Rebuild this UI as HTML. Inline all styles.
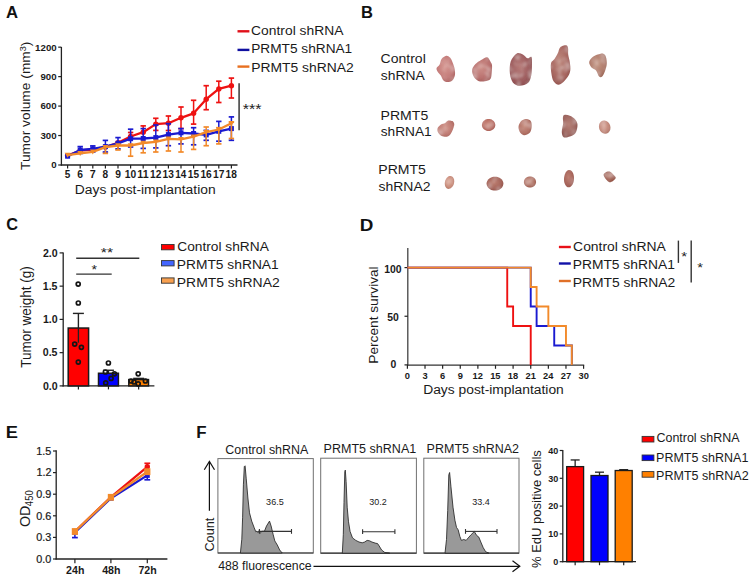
<!DOCTYPE html>
<html><head><meta charset="utf-8"><style>
html,body{margin:0;padding:0;background:#fff;width:754px;height:582px;overflow:hidden}
svg{display:block;font-family:"Liberation Sans", sans-serif}
</style></head><body>
<svg width="754" height="582" viewBox="0 0 754 582">
<defs><filter id="bl" x="-30%" y="-30%" width="160%" height="160%"><feGaussianBlur in="SourceGraphic" stdDeviation="0.6" result="b"/><feTurbulence type="fractalNoise" baseFrequency="0.14" numOctaves="2" seed="5" result="n"/><feColorMatrix in="n" type="matrix" values="0 0 0 0 0.95  0 0 0 0 0.82  0 0 0 0 0.80  0.9 0 0 0 -0.42" result="sp0"/><feGaussianBlur in="sp0" stdDeviation="0.8" result="sp"/><feComposite in="sp" in2="b" operator="in" result="sp2"/><feMerge><feMergeNode in="b"/><feMergeNode in="sp2"/></feMerge></filter><radialGradient id="tg0" cx="0.45" cy="0.42" r="0.6"><stop offset="0" stop-color="rgb(214, 152, 146)"/><stop offset="0.7" stop-color="rgb(196, 124, 122)"/><stop offset="1" stop-color="rgb(178, 106, 104)"/></radialGradient><radialGradient id="tg1" cx="0.45" cy="0.42" r="0.6"><stop offset="0" stop-color="rgb(206, 144, 138)"/><stop offset="0.7" stop-color="rgb(186, 114, 112)"/><stop offset="1" stop-color="rgb(168, 96, 94)"/></radialGradient><radialGradient id="tg2" cx="0.45" cy="0.42" r="0.6"><stop offset="0" stop-color="rgb(182, 122, 120)"/><stop offset="0.7" stop-color="rgb(158, 94, 96)"/><stop offset="1" stop-color="rgb(140, 76, 78)"/></radialGradient><radialGradient id="tg3" cx="0.45" cy="0.42" r="0.6"><stop offset="0" stop-color="rgb(190, 138, 126)"/><stop offset="0.7" stop-color="rgb(168, 104, 98)"/><stop offset="1" stop-color="rgb(150, 86, 80)"/></radialGradient><radialGradient id="tg4" cx="0.45" cy="0.42" r="0.6"><stop offset="0" stop-color="rgb(196, 152, 132)"/><stop offset="0.7" stop-color="rgb(176, 124, 108)"/><stop offset="1" stop-color="rgb(158, 106, 90)"/></radialGradient><radialGradient id="tg5" cx="0.45" cy="0.42" r="0.6"><stop offset="0" stop-color="rgb(210, 150, 140)"/><stop offset="0.7" stop-color="rgb(192, 124, 116)"/><stop offset="1" stop-color="rgb(174, 106, 98)"/></radialGradient><radialGradient id="tg6" cx="0.45" cy="0.42" r="0.6"><stop offset="0" stop-color="rgb(202, 136, 122)"/><stop offset="0.7" stop-color="rgb(184, 108, 98)"/><stop offset="1" stop-color="rgb(166, 90, 80)"/></radialGradient><radialGradient id="tg7" cx="0.45" cy="0.42" r="0.6"><stop offset="0" stop-color="rgb(200, 144, 130)"/><stop offset="0.7" stop-color="rgb(180, 116, 104)"/><stop offset="1" stop-color="rgb(162, 98, 86)"/></radialGradient><radialGradient id="tg8" cx="0.45" cy="0.42" r="0.6"><stop offset="0" stop-color="rgb(182, 130, 120)"/><stop offset="0.7" stop-color="rgb(158, 102, 96)"/><stop offset="1" stop-color="rgb(140, 84, 78)"/></radialGradient><radialGradient id="tg9" cx="0.45" cy="0.42" r="0.6"><stop offset="0" stop-color="rgb(212, 160, 145)"/><stop offset="0.7" stop-color="rgb(194, 136, 122)"/><stop offset="1" stop-color="rgb(176, 118, 104)"/></radialGradient><radialGradient id="tg10" cx="0.45" cy="0.42" r="0.6"><stop offset="0" stop-color="rgb(218, 165, 145)"/><stop offset="0.7" stop-color="rgb(200, 138, 120)"/><stop offset="1" stop-color="rgb(182, 120, 102)"/></radialGradient><radialGradient id="tg11" cx="0.45" cy="0.42" r="0.6"><stop offset="0" stop-color="rgb(188, 126, 112)"/><stop offset="0.7" stop-color="rgb(166, 102, 92)"/><stop offset="1" stop-color="rgb(148, 84, 74)"/></radialGradient><radialGradient id="tg12" cx="0.45" cy="0.42" r="0.6"><stop offset="0" stop-color="rgb(196, 138, 122)"/><stop offset="0.7" stop-color="rgb(174, 112, 98)"/><stop offset="1" stop-color="rgb(156, 94, 80)"/></radialGradient><radialGradient id="tg13" cx="0.45" cy="0.42" r="0.6"><stop offset="0" stop-color="rgb(190, 128, 115)"/><stop offset="0.7" stop-color="rgb(168, 102, 92)"/><stop offset="1" stop-color="rgb(150, 84, 74)"/></radialGradient><radialGradient id="tg14" cx="0.45" cy="0.42" r="0.6"><stop offset="0" stop-color="rgb(180, 118, 100)"/><stop offset="0.7" stop-color="rgb(158, 94, 80)"/><stop offset="1" stop-color="rgb(140, 76, 62)"/></radialGradient></defs>
<rect width="754" height="582" fill="#fff"/>
<line x1="61.40" y1="47.00" x2="61.40" y2="165.60" stroke="#222" stroke-width="1.3" />
<line x1="60.80" y1="165.00" x2="237.50" y2="165.00" stroke="#222" stroke-width="1.3" />
<line x1="58.20" y1="165.00" x2="61.40" y2="165.00" stroke="#222" stroke-width="1.2" />
<text x="56.70" y="168.40" font-size="9.7" font-weight="700" fill="#1a1a1a" text-anchor="end" >0</text>
<line x1="58.20" y1="135.54" x2="61.40" y2="135.54" stroke="#222" stroke-width="1.2" />
<text x="56.67" y="138.94" font-size="9.7" font-weight="700" fill="#1a1a1a" text-anchor="end" >300</text>
<line x1="58.20" y1="106.08" x2="61.40" y2="106.08" stroke="#222" stroke-width="1.2" />
<text x="56.67" y="109.48" font-size="9.7" font-weight="700" fill="#1a1a1a" text-anchor="end" >600</text>
<line x1="58.20" y1="76.62" x2="61.40" y2="76.62" stroke="#222" stroke-width="1.2" />
<text x="56.67" y="80.02" font-size="9.7" font-weight="700" fill="#1a1a1a" text-anchor="end" >900</text>
<line x1="58.20" y1="47.16" x2="61.40" y2="47.16" stroke="#222" stroke-width="1.2" />
<text x="56.68" y="50.56" font-size="9.7" font-weight="700" fill="#1a1a1a" text-anchor="end" >1200</text>
<line x1="67.60" y1="165.00" x2="67.60" y2="168.50" stroke="#222" stroke-width="1.2" />
<line x1="80.20" y1="165.00" x2="80.20" y2="168.50" stroke="#222" stroke-width="1.2" />
<line x1="92.80" y1="165.00" x2="92.80" y2="168.50" stroke="#222" stroke-width="1.2" />
<line x1="105.40" y1="165.00" x2="105.40" y2="168.50" stroke="#222" stroke-width="1.2" />
<line x1="118.00" y1="165.00" x2="118.00" y2="168.50" stroke="#222" stroke-width="1.2" />
<line x1="130.60" y1="165.00" x2="130.60" y2="168.50" stroke="#222" stroke-width="1.2" />
<line x1="143.20" y1="165.00" x2="143.20" y2="168.50" stroke="#222" stroke-width="1.2" />
<line x1="155.80" y1="165.00" x2="155.80" y2="168.50" stroke="#222" stroke-width="1.2" />
<line x1="168.40" y1="165.00" x2="168.40" y2="168.50" stroke="#222" stroke-width="1.2" />
<line x1="181.00" y1="165.00" x2="181.00" y2="168.50" stroke="#222" stroke-width="1.2" />
<line x1="193.60" y1="165.00" x2="193.60" y2="168.50" stroke="#222" stroke-width="1.2" />
<line x1="206.20" y1="165.00" x2="206.20" y2="168.50" stroke="#222" stroke-width="1.2" />
<line x1="218.80" y1="165.00" x2="218.80" y2="168.50" stroke="#222" stroke-width="1.2" />
<line x1="231.40" y1="165.00" x2="231.40" y2="168.50" stroke="#222" stroke-width="1.2" />
<text transform="translate(29.80,169.70) rotate(-90)" x="-0.27" y="0" font-size="13.4" font-weight="400" fill="#1a1a1a" textLength="128.44" lengthAdjust="spacingAndGlyphs">Tumor volume (mm<tspan font-size="8.8" dy="-4">3</tspan><tspan dy="4">)</tspan></text>
<line x1="130.60" y1="132.50" x2="130.60" y2="136.50" stroke="#ee1111" stroke-width="1.5" />
<line x1="127.90" y1="132.50" x2="133.30" y2="132.50" stroke="#ee1111" stroke-width="1.7" />
<line x1="143.20" y1="125.90" x2="143.20" y2="132.20" stroke="#ee1111" stroke-width="1.5" />
<line x1="140.50" y1="125.90" x2="145.90" y2="125.90" stroke="#ee1111" stroke-width="1.7" />
<line x1="155.80" y1="118.30" x2="155.80" y2="124.10" stroke="#ee1111" stroke-width="1.5" />
<line x1="153.10" y1="118.30" x2="158.50" y2="118.30" stroke="#ee1111" stroke-width="1.7" />
<line x1="155.80" y1="124.10" x2="155.80" y2="130.40" stroke="#ee1111" stroke-width="1.5" />
<line x1="153.10" y1="130.40" x2="158.50" y2="130.40" stroke="#ee1111" stroke-width="1.7" />
<line x1="168.40" y1="116.00" x2="168.40" y2="123.20" stroke="#ee1111" stroke-width="1.5" />
<line x1="165.70" y1="116.00" x2="171.10" y2="116.00" stroke="#ee1111" stroke-width="1.7" />
<line x1="168.40" y1="123.20" x2="168.40" y2="130.50" stroke="#ee1111" stroke-width="1.5" />
<line x1="165.70" y1="130.50" x2="171.10" y2="130.50" stroke="#ee1111" stroke-width="1.7" />
<line x1="181.00" y1="107.00" x2="181.00" y2="117.80" stroke="#ee1111" stroke-width="1.5" />
<line x1="178.30" y1="107.00" x2="183.70" y2="107.00" stroke="#ee1111" stroke-width="1.7" />
<line x1="181.00" y1="117.80" x2="181.00" y2="128.60" stroke="#ee1111" stroke-width="1.5" />
<line x1="178.30" y1="128.60" x2="183.70" y2="128.60" stroke="#ee1111" stroke-width="1.7" />
<line x1="193.60" y1="100.30" x2="193.60" y2="113.30" stroke="#ee1111" stroke-width="1.5" />
<line x1="190.90" y1="100.30" x2="196.30" y2="100.30" stroke="#ee1111" stroke-width="1.7" />
<line x1="193.60" y1="113.30" x2="193.60" y2="124.10" stroke="#ee1111" stroke-width="1.5" />
<line x1="190.90" y1="124.10" x2="196.30" y2="124.10" stroke="#ee1111" stroke-width="1.7" />
<line x1="206.20" y1="85.70" x2="206.20" y2="99.20" stroke="#ee1111" stroke-width="1.5" />
<line x1="203.50" y1="85.70" x2="208.90" y2="85.70" stroke="#ee1111" stroke-width="1.7" />
<line x1="206.20" y1="99.20" x2="206.20" y2="109.70" stroke="#ee1111" stroke-width="1.5" />
<line x1="203.50" y1="109.70" x2="208.90" y2="109.70" stroke="#ee1111" stroke-width="1.7" />
<line x1="218.80" y1="81.20" x2="218.80" y2="88.90" stroke="#ee1111" stroke-width="1.5" />
<line x1="216.10" y1="81.20" x2="221.50" y2="81.20" stroke="#ee1111" stroke-width="1.7" />
<line x1="218.80" y1="88.90" x2="218.80" y2="102.50" stroke="#ee1111" stroke-width="1.5" />
<line x1="216.10" y1="102.50" x2="221.50" y2="102.50" stroke="#ee1111" stroke-width="1.7" />
<line x1="231.40" y1="78.10" x2="231.40" y2="85.70" stroke="#ee1111" stroke-width="1.5" />
<line x1="228.70" y1="78.10" x2="234.10" y2="78.10" stroke="#ee1111" stroke-width="1.7" />
<line x1="231.40" y1="85.70" x2="231.40" y2="98.00" stroke="#ee1111" stroke-width="1.5" />
<line x1="228.70" y1="98.00" x2="234.10" y2="98.00" stroke="#ee1111" stroke-width="1.7" />
<polyline points="67.60,155.60 80.20,150.50 92.80,149.50 105.40,147.00 118.00,142.80 130.60,136.50 143.20,132.20 155.80,124.10 168.40,123.20 181.00,117.80 193.60,113.30 206.20,99.20 218.80,88.90 231.40,85.70" fill="none" stroke="#ee1111" stroke-width="2.3" stroke-linejoin="round"/>
<circle cx="67.60" cy="155.60" r="2.7" fill="#ee1111"/>
<circle cx="80.20" cy="150.50" r="2.7" fill="#ee1111"/>
<circle cx="92.80" cy="149.50" r="2.7" fill="#ee1111"/>
<circle cx="105.40" cy="147.00" r="2.7" fill="#ee1111"/>
<circle cx="118.00" cy="142.80" r="2.7" fill="#ee1111"/>
<circle cx="130.60" cy="136.50" r="2.7" fill="#ee1111"/>
<circle cx="143.20" cy="132.20" r="2.7" fill="#ee1111"/>
<circle cx="155.80" cy="124.10" r="2.7" fill="#ee1111"/>
<circle cx="168.40" cy="123.20" r="2.7" fill="#ee1111"/>
<circle cx="181.00" cy="117.80" r="2.7" fill="#ee1111"/>
<circle cx="193.60" cy="113.30" r="2.7" fill="#ee1111"/>
<circle cx="206.20" cy="99.20" r="2.7" fill="#ee1111"/>
<circle cx="218.80" cy="88.90" r="2.7" fill="#ee1111"/>
<circle cx="231.40" cy="85.70" r="2.7" fill="#ee1111"/>
<line x1="80.20" y1="146.60" x2="80.20" y2="150.00" stroke="#1a1ad0" stroke-width="1.5" />
<line x1="77.50" y1="146.60" x2="82.90" y2="146.60" stroke="#1a1ad0" stroke-width="1.7" />
<line x1="80.20" y1="150.00" x2="80.20" y2="153.40" stroke="#1a1ad0" stroke-width="1.5" />
<line x1="77.50" y1="153.40" x2="82.90" y2="153.40" stroke="#1a1ad0" stroke-width="1.7" />
<line x1="92.80" y1="145.90" x2="92.80" y2="148.90" stroke="#1a1ad0" stroke-width="1.5" />
<line x1="90.10" y1="145.90" x2="95.50" y2="145.90" stroke="#1a1ad0" stroke-width="1.7" />
<line x1="92.80" y1="148.90" x2="92.80" y2="152.00" stroke="#1a1ad0" stroke-width="1.5" />
<line x1="90.10" y1="152.00" x2="95.50" y2="152.00" stroke="#1a1ad0" stroke-width="1.7" />
<line x1="105.40" y1="140.40" x2="105.40" y2="146.60" stroke="#1a1ad0" stroke-width="1.5" />
<line x1="102.70" y1="140.40" x2="108.10" y2="140.40" stroke="#1a1ad0" stroke-width="1.7" />
<line x1="105.40" y1="146.60" x2="105.40" y2="152.00" stroke="#1a1ad0" stroke-width="1.5" />
<line x1="102.70" y1="152.00" x2="108.10" y2="152.00" stroke="#1a1ad0" stroke-width="1.7" />
<line x1="118.00" y1="137.60" x2="118.00" y2="143.30" stroke="#1a1ad0" stroke-width="1.5" />
<line x1="115.30" y1="137.60" x2="120.70" y2="137.60" stroke="#1a1ad0" stroke-width="1.7" />
<line x1="118.00" y1="143.30" x2="118.00" y2="148.90" stroke="#1a1ad0" stroke-width="1.5" />
<line x1="115.30" y1="148.90" x2="120.70" y2="148.90" stroke="#1a1ad0" stroke-width="1.7" />
<line x1="130.60" y1="129.20" x2="130.60" y2="138.70" stroke="#1a1ad0" stroke-width="1.5" />
<line x1="127.90" y1="129.20" x2="133.30" y2="129.20" stroke="#1a1ad0" stroke-width="1.7" />
<line x1="130.60" y1="138.70" x2="130.60" y2="147.00" stroke="#1a1ad0" stroke-width="1.5" />
<line x1="127.90" y1="147.00" x2="133.30" y2="147.00" stroke="#1a1ad0" stroke-width="1.7" />
<line x1="143.20" y1="128.60" x2="143.20" y2="138.50" stroke="#1a1ad0" stroke-width="1.5" />
<line x1="140.50" y1="128.60" x2="145.90" y2="128.60" stroke="#1a1ad0" stroke-width="1.7" />
<line x1="143.20" y1="138.50" x2="143.20" y2="148.40" stroke="#1a1ad0" stroke-width="1.5" />
<line x1="140.50" y1="148.40" x2="145.90" y2="148.40" stroke="#1a1ad0" stroke-width="1.7" />
<line x1="155.80" y1="125.00" x2="155.80" y2="137.60" stroke="#1a1ad0" stroke-width="1.5" />
<line x1="153.10" y1="125.00" x2="158.50" y2="125.00" stroke="#1a1ad0" stroke-width="1.7" />
<line x1="155.80" y1="137.60" x2="155.80" y2="147.90" stroke="#1a1ad0" stroke-width="1.5" />
<line x1="153.10" y1="147.90" x2="158.50" y2="147.90" stroke="#1a1ad0" stroke-width="1.7" />
<line x1="168.40" y1="123.70" x2="168.40" y2="134.60" stroke="#1a1ad0" stroke-width="1.5" />
<line x1="165.70" y1="123.70" x2="171.10" y2="123.70" stroke="#1a1ad0" stroke-width="1.7" />
<line x1="168.40" y1="134.60" x2="168.40" y2="145.70" stroke="#1a1ad0" stroke-width="1.5" />
<line x1="165.70" y1="145.70" x2="171.10" y2="145.70" stroke="#1a1ad0" stroke-width="1.7" />
<line x1="181.00" y1="128.60" x2="181.00" y2="132.80" stroke="#1a1ad0" stroke-width="1.5" />
<line x1="178.30" y1="128.60" x2="183.70" y2="128.60" stroke="#1a1ad0" stroke-width="1.7" />
<line x1="181.00" y1="132.80" x2="181.00" y2="143.90" stroke="#1a1ad0" stroke-width="1.5" />
<line x1="178.30" y1="143.90" x2="183.70" y2="143.90" stroke="#1a1ad0" stroke-width="1.7" />
<line x1="193.60" y1="127.70" x2="193.60" y2="133.50" stroke="#1a1ad0" stroke-width="1.5" />
<line x1="190.90" y1="127.70" x2="196.30" y2="127.70" stroke="#1a1ad0" stroke-width="1.7" />
<line x1="193.60" y1="133.50" x2="193.60" y2="144.80" stroke="#1a1ad0" stroke-width="1.5" />
<line x1="190.90" y1="144.80" x2="196.30" y2="144.80" stroke="#1a1ad0" stroke-width="1.7" />
<line x1="206.20" y1="130.40" x2="206.20" y2="134.90" stroke="#1a1ad0" stroke-width="1.5" />
<line x1="203.50" y1="130.40" x2="208.90" y2="130.40" stroke="#1a1ad0" stroke-width="1.7" />
<line x1="206.20" y1="134.90" x2="206.20" y2="140.30" stroke="#1a1ad0" stroke-width="1.5" />
<line x1="203.50" y1="140.30" x2="208.90" y2="140.30" stroke="#1a1ad0" stroke-width="1.7" />
<line x1="218.80" y1="121.40" x2="218.80" y2="131.30" stroke="#1a1ad0" stroke-width="1.5" />
<line x1="216.10" y1="121.40" x2="221.50" y2="121.40" stroke="#1a1ad0" stroke-width="1.7" />
<line x1="218.80" y1="131.30" x2="218.80" y2="141.20" stroke="#1a1ad0" stroke-width="1.5" />
<line x1="216.10" y1="141.20" x2="221.50" y2="141.20" stroke="#1a1ad0" stroke-width="1.7" />
<line x1="231.40" y1="116.90" x2="231.40" y2="128.60" stroke="#1a1ad0" stroke-width="1.5" />
<line x1="228.70" y1="116.90" x2="234.10" y2="116.90" stroke="#1a1ad0" stroke-width="1.7" />
<line x1="231.40" y1="128.60" x2="231.40" y2="140.30" stroke="#1a1ad0" stroke-width="1.5" />
<line x1="228.70" y1="140.30" x2="234.10" y2="140.30" stroke="#1a1ad0" stroke-width="1.7" />
<polyline points="67.60,156.20 80.20,150.00 92.80,148.90 105.40,146.60 118.00,143.30 130.60,138.70 143.20,138.50 155.80,137.60 168.40,134.60 181.00,132.80 193.60,133.50 206.20,134.90 218.80,131.30 231.40,128.60" fill="none" stroke="#1a1ad0" stroke-width="2.3" stroke-linejoin="round"/>
<rect x="65.10" y="153.70" width="5" height="5" fill="#1a1ad0"/>
<rect x="77.70" y="147.50" width="5" height="5" fill="#1a1ad0"/>
<rect x="90.30" y="146.40" width="5" height="5" fill="#1a1ad0"/>
<rect x="102.90" y="144.10" width="5" height="5" fill="#1a1ad0"/>
<rect x="115.50" y="140.80" width="5" height="5" fill="#1a1ad0"/>
<rect x="128.10" y="136.20" width="5" height="5" fill="#1a1ad0"/>
<rect x="140.70" y="136.00" width="5" height="5" fill="#1a1ad0"/>
<rect x="153.30" y="135.10" width="5" height="5" fill="#1a1ad0"/>
<rect x="165.90" y="132.10" width="5" height="5" fill="#1a1ad0"/>
<rect x="178.50" y="130.30" width="5" height="5" fill="#1a1ad0"/>
<rect x="191.10" y="131.00" width="5" height="5" fill="#1a1ad0"/>
<rect x="203.70" y="132.40" width="5" height="5" fill="#1a1ad0"/>
<rect x="216.30" y="128.80" width="5" height="5" fill="#1a1ad0"/>
<rect x="228.90" y="126.10" width="5" height="5" fill="#1a1ad0"/>
<line x1="105.40" y1="147.20" x2="105.40" y2="153.40" stroke="#f28a2a" stroke-width="1.5" />
<line x1="102.70" y1="153.40" x2="108.10" y2="153.40" stroke="#f28a2a" stroke-width="1.7" />
<line x1="118.00" y1="145.50" x2="118.00" y2="150.00" stroke="#f28a2a" stroke-width="1.5" />
<line x1="115.30" y1="150.00" x2="120.70" y2="150.00" stroke="#f28a2a" stroke-width="1.7" />
<line x1="130.60" y1="145.50" x2="130.60" y2="156.20" stroke="#f28a2a" stroke-width="1.5" />
<line x1="127.90" y1="156.20" x2="133.30" y2="156.20" stroke="#f28a2a" stroke-width="1.7" />
<line x1="143.20" y1="143.00" x2="143.20" y2="152.80" stroke="#f28a2a" stroke-width="1.5" />
<line x1="140.50" y1="152.80" x2="145.90" y2="152.80" stroke="#f28a2a" stroke-width="1.7" />
<line x1="155.80" y1="141.80" x2="155.80" y2="152.00" stroke="#f28a2a" stroke-width="1.5" />
<line x1="153.10" y1="152.00" x2="158.50" y2="152.00" stroke="#f28a2a" stroke-width="1.7" />
<line x1="168.40" y1="138.90" x2="168.40" y2="151.00" stroke="#f28a2a" stroke-width="1.5" />
<line x1="165.70" y1="151.00" x2="171.10" y2="151.00" stroke="#f28a2a" stroke-width="1.7" />
<line x1="181.00" y1="139.40" x2="181.00" y2="152.00" stroke="#f28a2a" stroke-width="1.5" />
<line x1="178.30" y1="152.00" x2="183.70" y2="152.00" stroke="#f28a2a" stroke-width="1.7" />
<line x1="193.60" y1="136.70" x2="193.60" y2="149.40" stroke="#f28a2a" stroke-width="1.5" />
<line x1="190.90" y1="149.40" x2="196.30" y2="149.40" stroke="#f28a2a" stroke-width="1.7" />
<line x1="206.20" y1="127.00" x2="206.20" y2="132.20" stroke="#f28a2a" stroke-width="1.5" />
<line x1="203.50" y1="127.00" x2="208.90" y2="127.00" stroke="#f28a2a" stroke-width="1.7" />
<line x1="206.20" y1="132.20" x2="206.20" y2="145.70" stroke="#f28a2a" stroke-width="1.5" />
<line x1="203.50" y1="145.70" x2="208.90" y2="145.70" stroke="#f28a2a" stroke-width="1.7" />
<line x1="218.80" y1="127.70" x2="218.80" y2="129.50" stroke="#f28a2a" stroke-width="1.5" />
<line x1="216.10" y1="127.70" x2="221.50" y2="127.70" stroke="#f28a2a" stroke-width="1.7" />
<line x1="218.80" y1="129.50" x2="218.80" y2="143.90" stroke="#f28a2a" stroke-width="1.5" />
<line x1="216.10" y1="143.90" x2="221.50" y2="143.90" stroke="#f28a2a" stroke-width="1.7" />
<line x1="231.40" y1="122.30" x2="231.40" y2="123.20" stroke="#f28a2a" stroke-width="1.5" />
<line x1="228.70" y1="122.30" x2="234.10" y2="122.30" stroke="#f28a2a" stroke-width="1.7" />
<line x1="231.40" y1="123.20" x2="231.40" y2="138.50" stroke="#f28a2a" stroke-width="1.5" />
<line x1="228.70" y1="138.50" x2="234.10" y2="138.50" stroke="#f28a2a" stroke-width="1.7" />
<polyline points="67.60,155.10 80.20,153.40 92.80,151.90 105.40,147.20 118.00,145.50 130.60,145.50 143.20,143.00 155.80,141.80 168.40,138.90 181.00,139.40 193.60,136.70 206.20,132.20 218.80,129.50 231.40,123.20" fill="none" stroke="#f28a2a" stroke-width="2.3" stroke-linejoin="round"/>
<polygon points="64.70,152.80 70.50,152.80 67.60,157.80" fill="#f28a2a"/>
<polygon points="77.30,151.10 83.10,151.10 80.20,156.10" fill="#f28a2a"/>
<polygon points="89.90,149.60 95.70,149.60 92.80,154.60" fill="#f28a2a"/>
<polygon points="102.50,144.90 108.30,144.90 105.40,149.90" fill="#f28a2a"/>
<polygon points="115.10,143.20 120.90,143.20 118.00,148.20" fill="#f28a2a"/>
<polygon points="127.70,143.20 133.50,143.20 130.60,148.20" fill="#f28a2a"/>
<polygon points="140.30,140.70 146.10,140.70 143.20,145.70" fill="#f28a2a"/>
<polygon points="152.90,139.50 158.70,139.50 155.80,144.50" fill="#f28a2a"/>
<polygon points="165.50,136.60 171.30,136.60 168.40,141.60" fill="#f28a2a"/>
<polygon points="178.10,137.10 183.90,137.10 181.00,142.10" fill="#f28a2a"/>
<polygon points="190.70,134.40 196.50,134.40 193.60,139.40" fill="#f28a2a"/>
<polygon points="203.30,129.90 209.10,129.90 206.20,134.90" fill="#f28a2a"/>
<polygon points="215.90,127.20 221.70,127.20 218.80,132.20" fill="#f28a2a"/>
<polygon points="228.50,120.90 234.30,120.90 231.40,125.90" fill="#f28a2a"/>
<line x1="239.10" y1="83.20" x2="239.10" y2="130.20" stroke="#444" stroke-width="1.6" />
<line x1="237.50" y1="31.30" x2="249.40" y2="31.30" stroke="#e0101a" stroke-width="2.4" />
<line x1="237.50" y1="49.90" x2="249.40" y2="49.90" stroke="#1010a0" stroke-width="2.4" />
<line x1="237.50" y1="66.60" x2="249.40" y2="66.60" stroke="#e87020" stroke-width="2.4" />
<line x1="63.20" y1="252.60" x2="63.20" y2="386.50" stroke="#222" stroke-width="1.3" />
<line x1="62.60" y1="385.90" x2="154.40" y2="385.90" stroke="#222" stroke-width="1.3" />
<line x1="59.60" y1="385.90" x2="63.20" y2="385.90" stroke="#222" stroke-width="1.2" />
<text x="57.63" y="389.60" font-size="10.6" font-weight="700" fill="#1a1a1a" text-anchor="end" >0.0</text>
<line x1="59.60" y1="352.65" x2="63.20" y2="352.65" stroke="#222" stroke-width="1.2" />
<text x="57.52" y="356.35" font-size="10.6" font-weight="700" fill="#1a1a1a" text-anchor="end" >0.5</text>
<line x1="59.60" y1="319.40" x2="63.20" y2="319.40" stroke="#222" stroke-width="1.2" />
<text x="57.63" y="323.10" font-size="10.6" font-weight="700" fill="#1a1a1a" text-anchor="end" >1.0</text>
<line x1="59.60" y1="286.15" x2="63.20" y2="286.15" stroke="#222" stroke-width="1.2" />
<text x="57.52" y="289.85" font-size="10.6" font-weight="700" fill="#1a1a1a" text-anchor="end" >1.5</text>
<line x1="59.60" y1="252.90" x2="63.20" y2="252.90" stroke="#222" stroke-width="1.2" />
<text x="57.63" y="256.60" font-size="10.6" font-weight="700" fill="#1a1a1a" text-anchor="end" >2.0</text>
<text transform="translate(30.80,367.40) rotate(-90)" x="-0.27" y="0" font-size="13.9" font-weight="400" fill="#1a1a1a" textLength="101.49" lengthAdjust="spacingAndGlyphs">Tumor weight (g)</text>
<line x1="78.40" y1="328.04" x2="78.40" y2="313.41" stroke="#222" stroke-width="1.4" />
<line x1="72.90" y1="313.41" x2="83.90" y2="313.41" stroke="#222" stroke-width="1.4" />
<rect x="68.20" y="328.04" width="20.40" height="57.86" fill="#ff0000" stroke="#1a1a1a" stroke-width="1.5"/>
<line x1="78.40" y1="385.90" x2="78.40" y2="389.40" stroke="#222" stroke-width="1.2" />
<line x1="108.45" y1="373.26" x2="108.45" y2="370.27" stroke="#222" stroke-width="1.4" />
<line x1="102.95" y1="370.27" x2="113.95" y2="370.27" stroke="#222" stroke-width="1.4" />
<rect x="98.50" y="373.26" width="19.90" height="12.63" fill="#0000ff" stroke="#1a1a1a" stroke-width="1.5"/>
<line x1="108.45" y1="385.90" x2="108.45" y2="389.40" stroke="#222" stroke-width="1.2" />
<line x1="138.65" y1="379.58" x2="138.65" y2="378.39" stroke="#222" stroke-width="1.4" />
<line x1="133.15" y1="378.39" x2="144.15" y2="378.39" stroke="#222" stroke-width="1.4" />
<rect x="128.80" y="379.58" width="19.70" height="6.32" fill="#ff8000" stroke="#1a1a1a" stroke-width="1.5"/>
<line x1="138.65" y1="385.90" x2="138.65" y2="389.40" stroke="#222" stroke-width="1.2" />
<line x1="78.40" y1="328.04" x2="78.40" y2="342.67" stroke="#222" stroke-width="1.3" />
<circle cx="78.2" cy="284.1" r="2.0" fill="none" stroke="#151515" stroke-width="1.7"/>
<circle cx="78.3" cy="303" r="2.0" fill="none" stroke="#151515" stroke-width="1.7"/>
<circle cx="74.7" cy="344.1" r="2.0" fill="none" stroke="#151515" stroke-width="1.7"/>
<circle cx="81.4" cy="347.3" r="2.0" fill="none" stroke="#151515" stroke-width="1.7"/>
<circle cx="78.3" cy="362.1" r="2.0" fill="none" stroke="#151515" stroke-width="1.7"/>
<circle cx="108.4" cy="363" r="2.0" fill="none" stroke="#151515" stroke-width="1.7"/>
<circle cx="105.4" cy="372" r="2.0" fill="none" stroke="#151515" stroke-width="1.7"/>
<circle cx="114.4" cy="373.8" r="2.0" fill="none" stroke="#151515" stroke-width="1.7"/>
<circle cx="111.1" cy="378.4" r="2.0" fill="none" stroke="#151515" stroke-width="1.7"/>
<circle cx="105.7" cy="382.9" r="2.0" fill="none" stroke="#151515" stroke-width="1.7"/>
<circle cx="138.2" cy="373.8" r="2.0" fill="none" stroke="#151515" stroke-width="1.7"/>
<circle cx="131" cy="381" r="2.0" fill="none" stroke="#151515" stroke-width="1.7"/>
<circle cx="138.2" cy="383.8" r="2.0" fill="none" stroke="#151515" stroke-width="1.7"/>
<circle cx="145.4" cy="381" r="2.0" fill="none" stroke="#151515" stroke-width="1.7"/>
<circle cx="134" cy="382" r="2.0" fill="none" stroke="#151515" stroke-width="1.7"/>
<line x1="76.20" y1="258.20" x2="139.30" y2="258.20" stroke="#333" stroke-width="1.4" />
<line x1="76.20" y1="274.10" x2="111.70" y2="274.10" stroke="#333" stroke-width="1.4" />
<line x1="161.50" y1="247.00" x2="174.10" y2="247.00" stroke="#000" stroke-width="0" />
<rect x="161.5" y="244.5" width="12.6" height="5.3" fill="#ff0000" stroke="#333" stroke-width="0.9"/>
<rect x="161.5" y="260.6" width="12.6" height="5.3" fill="#4466ff" stroke="#333" stroke-width="0.9"/>
<rect x="161.5" y="277.9" width="12.6" height="5.3" fill="#f8a050" stroke="#333" stroke-width="0.9"/>
<path d="M446.20,55.80 C447.60,55.57 448.95,56.52 450.00,57.60 C451.05,58.68 451.73,60.43 452.50,62.30 C453.27,64.17 454.20,66.63 454.60,68.80 C455.00,70.97 455.28,73.35 454.90,75.30 C454.52,77.25 453.52,79.38 452.30,80.50 C451.08,81.62 449.07,82.00 447.60,82.00 C446.13,82.00 444.63,81.58 443.50,80.50 C442.37,79.42 441.80,77.00 440.80,75.50 C439.80,74.00 438.20,72.75 437.50,71.50 C436.80,70.25 436.27,69.12 436.60,68.00 C436.93,66.88 438.67,66.30 439.50,64.80 C440.33,63.30 440.48,60.50 441.60,59.00 C442.72,57.50 444.80,56.03 446.20,55.80 Z" fill="url(#tg0)" filter="url(#bl)"/>
<path d="M487.10,57.20 C488.65,57.43 489.58,60.08 490.40,61.40 C491.22,62.72 491.78,63.25 492.00,65.10 C492.22,66.95 491.97,70.18 491.70,72.50 C491.43,74.82 491.55,77.53 490.40,79.00 C489.25,80.47 486.82,80.98 484.80,81.30 C482.78,81.62 480.17,81.75 478.30,80.90 C476.43,80.05 474.62,78.07 473.60,76.20 C472.58,74.33 471.88,71.72 472.20,69.70 C472.52,67.68 474.02,65.72 475.50,64.10 C476.98,62.48 479.17,61.15 481.10,60.00 C483.03,58.85 485.55,56.97 487.10,57.20 Z" fill="url(#tg1)" filter="url(#bl)"/>
<path d="M516.80,53.40 C518.83,52.25 521.12,53.68 522.90,54.50 C524.68,55.32 526.10,57.92 527.50,58.30 C528.90,58.68 530.55,56.03 531.30,56.80 C532.05,57.57 532.00,59.85 532.00,62.90 C532.00,65.95 531.93,71.80 531.30,75.10 C530.67,78.40 530.12,80.92 528.20,82.70 C526.28,84.48 522.33,85.80 519.80,85.80 C517.27,85.80 514.65,84.73 513.00,82.70 C511.35,80.67 510.28,77.15 509.90,73.60 C509.52,70.05 509.55,64.77 510.70,61.40 C511.85,58.03 514.77,54.55 516.80,53.40 Z" fill="url(#tg2)" filter="url(#bl)"/>
<path d="M562.20,46.00 C563.28,45.50 565.13,44.92 566.10,45.20 C567.07,45.48 567.65,46.13 568.00,47.70 C568.35,49.27 567.95,52.45 568.20,54.60 C568.45,56.75 569.13,58.30 569.50,60.60 C569.87,62.90 570.47,66.10 570.40,68.40 C570.33,70.70 570.03,72.40 569.10,74.40 C568.17,76.40 566.52,78.68 564.80,80.40 C563.08,82.12 560.67,84.55 558.80,84.70 C556.93,84.85 554.83,83.17 553.60,81.30 C552.37,79.43 551.83,76.52 551.40,73.50 C550.97,70.48 550.48,65.63 551.00,63.20 C551.52,60.77 553.35,60.62 554.50,58.90 C555.65,57.18 557.05,54.68 557.90,52.90 C558.75,51.12 558.88,49.35 559.60,48.20 C560.32,47.05 561.12,46.50 562.20,46.00 Z" fill="url(#tg3)" filter="url(#bl)"/>
<path d="M600.70,53.70 C602.73,53.45 604.18,53.77 605.20,55.30 C606.22,56.83 606.80,60.37 606.80,62.90 C606.80,65.43 605.97,68.22 605.20,70.50 C604.43,72.78 603.22,75.58 602.20,76.60 C601.18,77.62 600.12,77.62 599.10,76.60 C598.08,75.58 597.37,72.02 596.10,70.50 C594.83,68.98 592.65,68.90 591.50,67.50 C590.35,66.10 588.95,63.88 589.20,62.10 C589.45,60.32 591.08,58.20 593.00,56.80 C594.92,55.40 598.67,53.95 600.70,53.70 Z" fill="url(#tg4)" filter="url(#bl)"/>
<path d="M448.20,120.50 C449.40,120.20 451.40,120.55 452.40,121.10 C453.40,121.65 454.00,122.75 454.20,123.80 C454.40,124.85 454.10,125.88 453.60,127.40 C453.10,128.92 452.20,131.38 451.20,132.90 C450.20,134.42 449.20,136.00 447.60,136.50 C446.00,137.00 443.20,136.62 441.60,135.90 C440.00,135.18 438.65,133.52 438.00,132.20 C437.35,130.88 437.20,129.30 437.70,128.00 C438.20,126.70 439.75,125.25 441.00,124.40 C442.25,123.55 444.00,123.55 445.20,122.90 C446.40,122.25 447.00,120.80 448.20,120.50 Z" fill="url(#tg5)" filter="url(#bl)"/>
<path d="M495.30,125.00 C495.30,126.20 494.79,127.62 494.02,128.59 C493.25,129.55 491.92,130.43 490.67,130.80 C489.42,131.17 487.78,131.17 486.53,130.80 C485.28,130.43 483.95,129.55 483.18,128.59 C482.41,127.62 481.90,126.20 481.90,125.00 C481.90,123.80 482.41,122.38 483.18,121.41 C483.95,120.45 485.28,119.57 486.53,119.20 C487.78,118.83 489.42,118.83 490.67,119.20 C491.92,119.57 493.25,120.45 494.02,121.41 C494.79,122.38 495.30,123.80 495.30,125.00 Z" fill="url(#tg6)" filter="url(#bl)"/>
<path d="M526.70,118.90 C528.22,119.02 530.08,119.77 530.90,121.20 C531.72,122.63 531.83,125.52 531.60,127.50 C531.37,129.48 530.78,131.82 529.50,133.10 C528.22,134.38 525.53,135.43 523.90,135.20 C522.27,134.97 520.58,133.22 519.70,131.70 C518.82,130.18 518.25,127.97 518.60,126.10 C518.95,124.23 520.45,121.70 521.80,120.50 C523.15,119.30 525.18,118.78 526.70,118.90 Z" fill="url(#tg7)" filter="url(#bl)"/>
<path d="M564.30,115.00 C565.47,114.67 568.15,115.02 569.90,115.70 C571.65,116.38 573.53,117.60 574.80,119.10 C576.07,120.60 577.38,122.37 577.50,124.70 C577.62,127.03 576.77,131.12 575.50,133.10 C574.23,135.08 571.88,135.92 569.90,136.60 C567.92,137.28 564.95,138.02 563.60,137.20 C562.25,136.38 561.87,134.02 561.80,131.70 C561.73,129.38 563.02,125.63 563.20,123.30 C563.38,120.97 562.72,119.08 562.90,117.70 C563.08,116.32 563.13,115.33 564.30,115.00 Z" fill="url(#tg8)" filter="url(#bl)"/>
<path d="M610.15,125.42 C610.54,126.69 610.60,128.33 610.29,129.56 C609.98,130.78 609.19,132.05 608.29,132.76 C607.40,133.47 606.06,133.88 604.93,133.80 C603.79,133.72 602.42,133.12 601.48,132.28 C600.53,131.45 599.65,130.06 599.25,128.78 C598.86,127.51 598.80,125.87 599.11,124.64 C599.42,123.42 600.21,122.15 601.11,121.44 C602.00,120.73 603.34,120.32 604.47,120.40 C605.61,120.48 606.98,121.08 607.92,121.92 C608.87,122.75 609.75,124.14 610.15,125.42 Z" fill="url(#tg9)" filter="url(#bl)"/>
<path d="M453.96,183.54 C453.64,184.79 452.92,186.20 452.15,187.08 C451.37,187.96 450.25,188.66 449.32,188.83 C448.39,189.01 447.30,188.73 446.57,188.13 C445.84,187.53 445.19,186.38 444.93,185.24 C444.68,184.09 444.72,182.51 445.04,181.26 C445.36,180.01 446.08,178.60 446.85,177.72 C447.63,176.84 448.75,176.14 449.68,175.97 C450.61,175.79 451.70,176.07 452.43,176.67 C453.16,177.27 453.81,178.42 454.07,179.56 C454.32,180.71 454.28,182.29 453.96,183.54 Z" fill="url(#tg10)" filter="url(#bl)"/>
<path d="M503.40,183.60 C503.40,184.97 502.76,186.60 501.80,187.71 C500.83,188.82 499.16,189.83 497.60,190.26 C496.03,190.68 493.97,190.68 492.40,190.26 C490.84,189.83 489.17,188.82 488.20,187.71 C487.24,186.60 486.60,184.97 486.60,183.60 C486.60,182.23 487.24,180.60 488.20,179.49 C489.17,178.38 490.84,177.37 492.40,176.94 C493.97,176.52 496.03,176.52 497.60,176.94 C499.16,177.37 500.83,178.38 501.80,179.49 C502.76,180.60 503.40,182.23 503.40,183.60 Z" fill="url(#tg11)" filter="url(#bl)"/>
<path d="M536.10,182.00 C536.10,183.08 535.64,184.36 534.94,185.23 C534.23,186.10 533.02,186.90 531.89,187.23 C530.75,187.56 529.25,187.56 528.11,187.23 C526.98,186.90 525.77,186.10 525.06,185.23 C524.36,184.36 523.90,183.08 523.90,182.00 C523.90,180.92 524.36,179.64 525.06,178.77 C525.77,177.90 526.98,177.10 528.11,176.77 C529.25,176.44 530.75,176.44 531.89,176.77 C533.02,177.10 534.23,177.90 534.94,178.77 C535.64,179.64 536.10,180.92 536.10,182.00 Z" fill="url(#tg12)" filter="url(#bl)"/>
<path d="M573.99,178.95 C573.91,180.65 573.43,182.66 572.78,184.01 C572.14,185.36 571.09,186.56 570.13,187.04 C569.17,187.52 567.95,187.46 567.04,186.89 C566.14,186.31 565.21,185.01 564.70,183.61 C564.20,182.20 563.92,180.15 564.01,178.45 C564.09,176.75 564.57,174.74 565.22,173.39 C565.86,172.04 566.91,170.84 567.87,170.36 C568.83,169.88 570.05,169.94 570.96,170.51 C571.86,171.09 572.79,172.39 573.30,173.79 C573.80,175.20 574.08,177.25 573.99,178.95 Z" fill="url(#tg13)" filter="url(#bl)"/>
<path d="M604.00,173.80 C604.50,173.05 605.90,172.00 607.00,171.70 C608.10,171.40 609.40,171.35 610.60,172.00 C611.80,172.65 613.35,174.60 614.20,175.60 C615.05,176.60 615.90,177.10 615.70,178.00 C615.50,178.90 614.05,180.30 613.00,181.00 C611.95,181.70 610.50,182.40 609.40,182.20 C608.30,182.00 607.30,180.80 606.40,179.80 C605.50,178.80 604.40,177.20 604.00,176.20 C603.60,175.20 603.50,174.55 604.00,173.80 Z" fill="url(#tg14)" filter="url(#bl)"/>
<line x1="407.80" y1="247.90" x2="407.80" y2="365.50" stroke="#444" stroke-width="1.3" />
<line x1="407.20" y1="365.10" x2="584.20" y2="365.10" stroke="#333" stroke-width="1.3" />
<line x1="404.50" y1="364.90" x2="407.80" y2="364.90" stroke="#222" stroke-width="1.2" />
<line x1="404.50" y1="316.25" x2="407.80" y2="316.25" stroke="#222" stroke-width="1.2" />
<line x1="404.50" y1="267.60" x2="407.80" y2="267.60" stroke="#222" stroke-width="1.2" />
<text x="384.29" y="273.30" font-size="10.4" font-weight="700" fill="#1a1a1a">100</text>
<text x="387.18" y="320.50" font-size="10.4" font-weight="700" fill="#1a1a1a">50</text>
<text x="390.61" y="367.80" font-size="10.4" font-weight="700" fill="#1a1a1a">0</text>
<line x1="407.40" y1="365.10" x2="407.40" y2="368.80" stroke="#222" stroke-width="1.2" />
<text x="404.82" y="378.90" font-size="9.3" font-weight="700" fill="#1a1a1a">0</text>
<line x1="425.02" y1="365.10" x2="425.02" y2="368.80" stroke="#222" stroke-width="1.2" />
<text x="422.48" y="378.90" font-size="9.3" font-weight="700" fill="#1a1a1a">3</text>
<line x1="442.64" y1="365.10" x2="442.64" y2="368.80" stroke="#222" stroke-width="1.2" />
<text x="440.06" y="378.90" font-size="9.3" font-weight="700" fill="#1a1a1a">6</text>
<line x1="460.26" y1="365.10" x2="460.26" y2="368.80" stroke="#222" stroke-width="1.2" />
<text x="457.68" y="378.90" font-size="9.3" font-weight="700" fill="#1a1a1a">9</text>
<line x1="477.88" y1="365.10" x2="477.88" y2="368.80" stroke="#222" stroke-width="1.2" />
<text x="472.57" y="378.90" font-size="9.3" font-weight="700" fill="#1a1a1a">12</text>
<line x1="495.50" y1="365.10" x2="495.50" y2="368.80" stroke="#222" stroke-width="1.2" />
<text x="490.15" y="378.90" font-size="9.3" font-weight="700" fill="#1a1a1a">15</text>
<line x1="513.11" y1="365.10" x2="513.11" y2="368.80" stroke="#222" stroke-width="1.2" />
<text x="507.79" y="378.90" font-size="9.3" font-weight="700" fill="#1a1a1a">18</text>
<line x1="530.73" y1="365.10" x2="530.73" y2="368.80" stroke="#222" stroke-width="1.2" />
<text x="525.52" y="378.90" font-size="9.3" font-weight="700" fill="#1a1a1a">21</text>
<line x1="548.35" y1="365.10" x2="548.35" y2="368.80" stroke="#222" stroke-width="1.2" />
<text x="543.05" y="378.90" font-size="9.3" font-weight="700" fill="#1a1a1a">24</text>
<line x1="565.97" y1="365.10" x2="565.97" y2="368.80" stroke="#222" stroke-width="1.2" />
<text x="560.83" y="378.90" font-size="9.3" font-weight="700" fill="#1a1a1a">27</text>
<line x1="583.59" y1="365.10" x2="583.59" y2="368.80" stroke="#222" stroke-width="1.2" />
<text x="578.50" y="378.90" font-size="9.3" font-weight="700" fill="#1a1a1a">30</text>
<text transform="translate(377.60,362.60) rotate(-90)" x="-1.09" y="0" font-size="13.6" font-weight="400" fill="#1a1a1a" textLength="97.34" lengthAdjust="spacingAndGlyphs">Percent survival</text>
<polyline points="407.40,267.60 507.24,267.60 507.24,306.52 513.11,306.52 513.11,325.98 530.73,325.98 530.73,364.90" fill="none" stroke="#ee1111" stroke-width="1.9"/>
<polyline points="407.40,267.60 530.73,267.60 530.73,306.52 536.61,306.52 536.61,325.98 554.23,325.98 554.23,345.44 571.84,345.44 571.84,364.90" fill="none" stroke="#1a1ad0" stroke-width="1.9"/>
<polyline points="407.40,267.60 530.73,267.60 530.73,287.06 536.61,287.06 536.61,306.52 548.35,306.52 548.35,325.98 565.97,325.98 565.97,345.44 571.84,345.44 571.84,364.90" fill="none" stroke="#f28a2a" stroke-width="1.9"/>
<line x1="558.90" y1="247.00" x2="570.80" y2="247.00" stroke="#e81018" stroke-width="2.4" />
<line x1="558.90" y1="263.50" x2="570.80" y2="263.50" stroke="#1212a8" stroke-width="2.4" />
<line x1="558.90" y1="281.00" x2="570.80" y2="281.00" stroke="#e07028" stroke-width="2.4" />
<line x1="678.40" y1="240.60" x2="678.40" y2="262.90" stroke="#333" stroke-width="1.4" />
<line x1="691.20" y1="240.60" x2="691.20" y2="282.60" stroke="#333" stroke-width="1.4" />
<line x1="56.20" y1="450.30" x2="56.20" y2="559.60" stroke="#222" stroke-width="1.3" />
<line x1="55.60" y1="559.00" x2="167.40" y2="559.00" stroke="#222" stroke-width="1.3" />
<line x1="53.00" y1="559.00" x2="56.20" y2="559.00" stroke="#222" stroke-width="1.2" />
<text x="51.33" y="562.80" font-size="10.8" font-weight="400" fill="#1a1a1a" text-anchor="end" stroke="#1a1a1a" stroke-width="0.22">0.0</text>
<line x1="53.00" y1="537.40" x2="56.20" y2="537.40" stroke="#222" stroke-width="1.2" />
<text x="51.39" y="541.20" font-size="10.8" font-weight="400" fill="#1a1a1a" text-anchor="end" stroke="#1a1a1a" stroke-width="0.22">0.3</text>
<line x1="53.00" y1="515.80" x2="56.20" y2="515.80" stroke="#222" stroke-width="1.2" />
<text x="51.39" y="519.60" font-size="10.8" font-weight="400" fill="#1a1a1a" text-anchor="end" stroke="#1a1a1a" stroke-width="0.22">0.6</text>
<line x1="53.00" y1="494.20" x2="56.20" y2="494.20" stroke="#222" stroke-width="1.2" />
<text x="51.39" y="498.00" font-size="10.8" font-weight="400" fill="#1a1a1a" text-anchor="end" stroke="#1a1a1a" stroke-width="0.22">0.9</text>
<line x1="53.00" y1="472.60" x2="56.20" y2="472.60" stroke="#222" stroke-width="1.2" />
<text x="51.44" y="476.40" font-size="10.8" font-weight="400" fill="#1a1a1a" text-anchor="end" stroke="#1a1a1a" stroke-width="0.22">1.2</text>
<line x1="53.00" y1="451.00" x2="56.20" y2="451.00" stroke="#222" stroke-width="1.2" />
<text x="51.33" y="454.80" font-size="10.8" font-weight="400" fill="#1a1a1a" text-anchor="end" stroke="#1a1a1a" stroke-width="0.22">1.5</text>
<line x1="74.90" y1="559.00" x2="74.90" y2="563.20" stroke="#222" stroke-width="1.2" />
<text x="66.12" y="574.30" font-size="10.6" font-weight="700" fill="#1a1a1a">24h</text>
<line x1="110.90" y1="559.00" x2="110.90" y2="563.20" stroke="#222" stroke-width="1.2" />
<text x="102.22" y="574.30" font-size="10.6" font-weight="700" fill="#1a1a1a">48h</text>
<line x1="147.30" y1="559.00" x2="147.30" y2="563.20" stroke="#222" stroke-width="1.2" />
<text x="138.46" y="574.30" font-size="10.6" font-weight="700" fill="#1a1a1a">72h</text>
<text transform="translate(29.90,526.40) rotate(-90)" x="-0.64" y="0" font-size="13.8" font-weight="400" fill="#1a1a1a" textLength="21.46" lengthAdjust="spacingAndGlyphs">OD</text>
<text transform="translate(33.30,505.90) rotate(-90)" x="-0.24" y="0" font-size="10.2" font-weight="400" fill="#1a1a1a" textLength="15.80" lengthAdjust="spacingAndGlyphs">450</text>
<line x1="74.90" y1="532.00" x2="74.90" y2="537.60" stroke="#1a1ad0" stroke-width="1.5" />
<line x1="72.00" y1="537.60" x2="77.80" y2="537.60" stroke="#1a1ad0" stroke-width="1.7" />
<line x1="147.30" y1="475.00" x2="147.30" y2="479.80" stroke="#1a1ad0" stroke-width="1.5" />
<line x1="144.40" y1="479.80" x2="150.20" y2="479.80" stroke="#1a1ad0" stroke-width="1.7" />
<line x1="147.30" y1="463.00" x2="147.30" y2="467.00" stroke="#ee1111" stroke-width="1.5" />
<line x1="144.40" y1="463.30" x2="150.20" y2="463.30" stroke="#ee1111" stroke-width="1.7" />
<polyline points="74.9,531.5 110.9,497.0 147.3,466.8" fill="none" stroke="#ee1111" stroke-width="2.3"/>
<polyline points="74.9,532.3 110.9,498.2 147.3,475.4" fill="none" stroke="#1a1ad0" stroke-width="2.3"/>
<polyline points="74.9,531.5 110.9,497.3 147.3,471.7" fill="none" stroke="#f28a2a" stroke-width="2.3"/>
<circle cx="74.9" cy="531.5" r="2.7" fill="#ee1111"/>
<circle cx="110.9" cy="497.0" r="2.7" fill="#ee1111"/>
<circle cx="147.3" cy="466.8" r="2.7" fill="#ee1111"/>
<rect x="72.4" y="529.8" width="5" height="5" fill="#1a1ad0"/>
<rect x="108.4" y="495.7" width="5" height="5" fill="#1a1ad0"/>
<rect x="144.8" y="472.9" width="5" height="5" fill="#1a1ad0"/>
<rect x="71.80000000000001" y="528.1" width="6.2" height="6.8" fill="#f28a2a"/>
<rect x="107.80000000000001" y="493.90000000000003" width="6.2" height="6.8" fill="#f28a2a"/>
<rect x="144.20000000000002" y="468.3" width="6.2" height="6.8" fill="#f28a2a"/>
<rect x="217.9" y="458.6" width="95.40" height="94.40" fill="none" stroke="#707070" stroke-width="1.0"/>
<line x1="217.90" y1="553.00" x2="313.30" y2="553.00" stroke="#333" stroke-width="1.2" />
<rect x="320.7" y="458.2" width="95.70" height="95.00" fill="none" stroke="#707070" stroke-width="1.0"/>
<line x1="320.70" y1="553.20" x2="416.40" y2="553.20" stroke="#333" stroke-width="1.2" />
<rect x="423.8" y="458.2" width="95.20" height="94.90" fill="none" stroke="#707070" stroke-width="1.0"/>
<line x1="423.80" y1="553.10" x2="519.00" y2="553.10" stroke="#333" stroke-width="1.2" />
<polygon points="240.4,553.0 241.8,539.2 242.6,517.8 243.4,484.8 244.3,466.6 245.1,465.8 246.2,478.2 247.9,498 249.5,512.8 251.7,521.1 254.2,527.7 255.8,531.8 257,531 258,532.6 259.1,530.6 259.9,533.4 260.8,532.6 262.1,531.3 264.4,531.3 266.5,526 269.5,521.1 271.1,526 273.1,534.3 274.8,540.9 277.3,545 279.7,550 282.2,553.0" fill="#999999" stroke="#262626" stroke-width="0.85" stroke-linejoin="round"/>
<polygon points="342.3,553.2 343.3,534.7 344,502.4 344.8,471.7 345.3,470.1 346.1,481.4 347.2,507.2 348.5,521.8 350.1,531.5 352.5,537.9 355.8,540.4 359,542 362.2,542.8 364.7,542 367.1,540.4 369.5,540.8 371.9,542 375.2,543.1 377.6,543.6 379.2,546 381.6,550 384.8,552.5 389.7,553.2" fill="#999999" stroke="#262626" stroke-width="0.85" stroke-linejoin="round"/>
<polygon points="445.0,553.1 446.5,539.5 447.7,510.5 448.8,474.9 449.6,472.5 450.9,486.2 453,507.2 454.9,520.2 456.5,527.4 458.2,529.9 459.8,536.3 461.4,540.4 463.8,539.5 466.2,540.4 468.2,537.9 471.1,534.7 474.3,531.5 476.7,535.5 478.8,537.1 480.8,542 483.2,547.6 485.6,551.7 488.8,553.1" fill="#999999" stroke="#262626" stroke-width="0.85" stroke-linejoin="round"/>
<line x1="259.40" y1="531.40" x2="291.50" y2="531.40" stroke="#333" stroke-width="1.1" />
<line x1="259.40" y1="529.00" x2="259.40" y2="533.80" stroke="#333" stroke-width="1.1" />
<line x1="291.50" y1="529.00" x2="291.50" y2="533.80" stroke="#333" stroke-width="1.1" />
<line x1="362.60" y1="531.70" x2="394.90" y2="531.70" stroke="#333" stroke-width="1.1" />
<line x1="362.60" y1="529.30" x2="362.60" y2="534.10" stroke="#333" stroke-width="1.1" />
<line x1="394.90" y1="529.30" x2="394.90" y2="534.10" stroke="#333" stroke-width="1.1" />
<line x1="465.50" y1="531.40" x2="497.00" y2="531.40" stroke="#333" stroke-width="1.1" />
<line x1="465.50" y1="529.00" x2="465.50" y2="533.80" stroke="#333" stroke-width="1.1" />
<line x1="497.00" y1="529.00" x2="497.00" y2="533.80" stroke="#333" stroke-width="1.1" />
<line x1="209.40" y1="462.00" x2="209.40" y2="510.70" stroke="#111" stroke-width="1.2" />
<polyline points="204.3,469.8 209.4,461.5 214.5,469.8" fill="none" stroke="#111" stroke-width="1.2"/>
<text transform="translate(213.80,550.90) rotate(-90)" x="-0.63" y="0" font-size="12.6" font-weight="400" fill="#1a1a1a" textLength="33.74" lengthAdjust="spacingAndGlyphs">Count</text>
<line x1="313.50" y1="566.30" x2="519.50" y2="566.30" stroke="#111" stroke-width="1.2" />
<polyline points="512.5,560.8 519.8,566.3 512.5,571.8" fill="none" stroke="#111" stroke-width="1.2"/>
<line x1="562.80" y1="450.00" x2="562.80" y2="562.20" stroke="#222" stroke-width="1.3" />
<line x1="562.20" y1="561.70" x2="636.00" y2="561.70" stroke="#222" stroke-width="1.3" />
<line x1="559.70" y1="561.70" x2="562.80" y2="561.70" stroke="#222" stroke-width="1.2" />
<text x="558.27" y="564.90" font-size="9.0" font-weight="700" fill="#1a1a1a" text-anchor="end" >0</text>
<line x1="559.70" y1="533.90" x2="562.80" y2="533.90" stroke="#222" stroke-width="1.2" />
<text x="558.28" y="537.10" font-size="9.0" font-weight="700" fill="#1a1a1a" text-anchor="end" >10</text>
<line x1="559.70" y1="506.10" x2="562.80" y2="506.10" stroke="#222" stroke-width="1.2" />
<text x="558.28" y="509.30" font-size="9.0" font-weight="700" fill="#1a1a1a" text-anchor="end" >20</text>
<line x1="559.70" y1="478.30" x2="562.80" y2="478.30" stroke="#222" stroke-width="1.2" />
<text x="558.28" y="481.50" font-size="9.0" font-weight="700" fill="#1a1a1a" text-anchor="end" >30</text>
<line x1="559.70" y1="450.50" x2="562.80" y2="450.50" stroke="#222" stroke-width="1.2" />
<text x="558.28" y="453.70" font-size="9.0" font-weight="700" fill="#1a1a1a" text-anchor="end" >40</text>
<text transform="translate(541.00,567.60) rotate(-90)" x="-0.46" y="0" font-size="13.0" font-weight="400" fill="#1a1a1a" textLength="117.90" lengthAdjust="spacingAndGlyphs">% EdU positive cells</text>
<line x1="575.15" y1="459.95" x2="575.15" y2="466.62" stroke="#222" stroke-width="1.3" />
<line x1="570.65" y1="459.95" x2="579.65" y2="459.95" stroke="#222" stroke-width="1.3" />
<rect x="566.7" y="466.62" width="16.90" height="95.08" fill="#ff0000" stroke="#1a1a1a" stroke-width="1.3"/>
<line x1="575.15" y1="561.70" x2="575.15" y2="565.20" stroke="#222" stroke-width="1.2" />
<line x1="599.50" y1="472.18" x2="599.50" y2="475.52" stroke="#222" stroke-width="1.3" />
<line x1="595.00" y1="472.18" x2="604.00" y2="472.18" stroke="#222" stroke-width="1.3" />
<rect x="591.0" y="475.52" width="17.00" height="86.18" fill="#0000ff" stroke="#1a1a1a" stroke-width="1.3"/>
<line x1="599.50" y1="561.70" x2="599.50" y2="565.20" stroke="#222" stroke-width="1.2" />
<line x1="623.70" y1="469.68" x2="623.70" y2="470.52" stroke="#222" stroke-width="1.3" />
<line x1="619.20" y1="469.68" x2="628.20" y2="469.68" stroke="#222" stroke-width="1.3" />
<rect x="615.2" y="470.52" width="17.00" height="91.18" fill="#ff8000" stroke="#1a1a1a" stroke-width="1.3"/>
<line x1="623.70" y1="561.70" x2="623.70" y2="565.20" stroke="#222" stroke-width="1.2" />
<rect x="642.1" y="436.4" width="11.8" height="5.6" fill="#ff0000" stroke="#333" stroke-width="0.9"/>
<rect x="642.1" y="455.0" width="11.8" height="5.6" fill="#0000ff" stroke="#333" stroke-width="0.9"/>
<rect x="642.1" y="471.6" width="11.8" height="5.6" fill="#ff8000" stroke="#333" stroke-width="0.9"/>
<text x="6.08" y="18.00" font-size="15.8" font-weight="700" fill="#111" textLength="12.07" lengthAdjust="spacingAndGlyphs">A</text>
<text x="360.92" y="17.80" font-size="15.8" font-weight="700" fill="#111" textLength="11.96" lengthAdjust="spacingAndGlyphs">B</text>
<text x="6.25" y="229.90" font-size="15.8" font-weight="700" fill="#111" textLength="11.80" lengthAdjust="spacingAndGlyphs">C</text>
<text x="359.77" y="231.20" font-size="15.8" font-weight="700" fill="#111" textLength="13.62" lengthAdjust="spacingAndGlyphs">D</text>
<text x="5.72" y="437.50" font-size="15.8" font-weight="700" fill="#111" textLength="12.16" lengthAdjust="spacingAndGlyphs">E</text>
<text x="196.20" y="437.90" font-size="15.8" font-weight="700" fill="#111" textLength="10.30" lengthAdjust="spacingAndGlyphs">F</text>
<text x="64.80" y="177.90" font-size="10.9" font-weight="700" fill="#1a1a1a" textLength="5.56" lengthAdjust="spacingAndGlyphs">5</text>
<text x="77.34" y="177.90" font-size="10.9" font-weight="700" fill="#1a1a1a" textLength="5.73" lengthAdjust="spacingAndGlyphs">6</text>
<text x="89.82" y="177.90" font-size="10.9" font-weight="700" fill="#1a1a1a" textLength="5.98" lengthAdjust="spacingAndGlyphs">7</text>
<text x="102.60" y="177.90" font-size="10.9" font-weight="700" fill="#1a1a1a" textLength="5.62" lengthAdjust="spacingAndGlyphs">8</text>
<text x="115.14" y="177.90" font-size="10.9" font-weight="700" fill="#1a1a1a" textLength="5.73" lengthAdjust="spacingAndGlyphs">9</text>
<text x="124.78" y="177.90" font-size="10.9" font-weight="700" fill="#1a1a1a" textLength="11.40" lengthAdjust="spacingAndGlyphs">10</text>
<text x="137.36" y="177.90" font-size="10.9" font-weight="700" fill="#1a1a1a" textLength="11.28" lengthAdjust="spacingAndGlyphs">11</text>
<text x="149.99" y="177.90" font-size="10.9" font-weight="700" fill="#1a1a1a" textLength="11.34" lengthAdjust="spacingAndGlyphs">12</text>
<text x="162.59" y="177.90" font-size="10.9" font-weight="700" fill="#1a1a1a" textLength="11.34" lengthAdjust="spacingAndGlyphs">13</text>
<text x="175.21" y="177.90" font-size="10.9" font-weight="700" fill="#1a1a1a" textLength="11.02" lengthAdjust="spacingAndGlyphs">14</text>
<text x="187.79" y="177.90" font-size="10.9" font-weight="700" fill="#1a1a1a" textLength="11.23" lengthAdjust="spacingAndGlyphs">15</text>
<text x="200.39" y="177.90" font-size="10.9" font-weight="700" fill="#1a1a1a" textLength="11.34" lengthAdjust="spacingAndGlyphs">16</text>
<text x="212.98" y="177.90" font-size="10.9" font-weight="700" fill="#1a1a1a" textLength="11.40" lengthAdjust="spacingAndGlyphs">17</text>
<text x="225.59" y="177.90" font-size="10.9" font-weight="700" fill="#1a1a1a" textLength="11.29" lengthAdjust="spacingAndGlyphs">18</text>
<text x="74.89" y="193.50" font-size="13.7" font-weight="400" fill="#1a1a1a" textLength="140.73" lengthAdjust="spacingAndGlyphs">Days post-implantation</text>
<text x="242.66" y="113.90" font-size="14.4" font-weight="400" fill="#222" textLength="18.72" lengthAdjust="spacingAndGlyphs">***</text>
<text x="251.11" y="35.10" font-size="13.6" font-weight="400" fill="#1a1a1a" textLength="92.25" lengthAdjust="spacingAndGlyphs">Control shRNA</text>
<text x="251.21" y="53.10" font-size="13.6" font-weight="400" fill="#1a1a1a" textLength="101.02" lengthAdjust="spacingAndGlyphs">PRMT5 shRNA1</text>
<text x="251.19" y="71.50" font-size="13.6" font-weight="400" fill="#1a1a1a" textLength="102.51" lengthAdjust="spacingAndGlyphs">PRMT5 shRNA2</text>
<text x="380.60" y="63.10" font-size="13.5" font-weight="400" fill="#1a1a1a" textLength="45.16" lengthAdjust="spacingAndGlyphs">Control</text>
<text x="380.88" y="79.60" font-size="13.5" font-weight="400" fill="#1a1a1a" textLength="43.95" lengthAdjust="spacingAndGlyphs">shRNA</text>
<text x="380.58" y="119.80" font-size="13.5" font-weight="400" fill="#1a1a1a" textLength="47.65" lengthAdjust="spacingAndGlyphs">PRMT5</text>
<text x="380.79" y="136.10" font-size="13.5" font-weight="400" fill="#1a1a1a" textLength="50.87" lengthAdjust="spacingAndGlyphs">shRNA1</text>
<text x="378.38" y="173.90" font-size="13.5" font-weight="400" fill="#1a1a1a" textLength="47.54" lengthAdjust="spacingAndGlyphs">PRMT5</text>
<text x="378.48" y="190.50" font-size="13.5" font-weight="400" fill="#1a1a1a" textLength="52.00" lengthAdjust="spacingAndGlyphs">shRNA2</text>
<text x="100.87" y="256.80" font-size="13.0" font-weight="400" fill="#222" textLength="12.14" lengthAdjust="spacingAndGlyphs">**</text>
<text x="91.59" y="273.90" font-size="13.0" font-weight="400" fill="#222" textLength="5.51" lengthAdjust="spacingAndGlyphs">*</text>
<text x="177.21" y="251.00" font-size="13.6" font-weight="400" fill="#1a1a1a" textLength="91.64" lengthAdjust="spacingAndGlyphs">Control shRNA</text>
<text x="176.80" y="269.00" font-size="13.6" font-weight="400" fill="#1a1a1a" textLength="101.93" lengthAdjust="spacingAndGlyphs">PRMT5 shRNA1</text>
<text x="176.79" y="286.60" font-size="13.6" font-weight="400" fill="#1a1a1a" textLength="102.92" lengthAdjust="spacingAndGlyphs">PRMT5 shRNA2</text>
<text x="423.19" y="393.90" font-size="13.7" font-weight="400" fill="#1a1a1a" textLength="140.62" lengthAdjust="spacingAndGlyphs">Days post-implantation</text>
<text x="573.11" y="251.20" font-size="13.6" font-weight="400" fill="#1a1a1a" textLength="92.65" lengthAdjust="spacingAndGlyphs">Control shRNA</text>
<text x="572.69" y="269.30" font-size="13.6" font-weight="400" fill="#1a1a1a" textLength="102.14" lengthAdjust="spacingAndGlyphs">PRMT5 shRNA1</text>
<text x="572.69" y="287.30" font-size="13.6" font-weight="400" fill="#1a1a1a" textLength="102.61" lengthAdjust="spacingAndGlyphs">PRMT5 shRNA2</text>
<text x="681.38" y="261.00" font-size="13.4" font-weight="400" fill="#222" textLength="5.84" lengthAdjust="spacingAndGlyphs">*</text>
<text x="697.38" y="271.60" font-size="13.4" font-weight="400" fill="#222" textLength="5.73" lengthAdjust="spacingAndGlyphs">*</text>
<text x="225.38" y="453.70" font-size="12.3" font-weight="400" fill="#1a1a1a" textLength="82.87" lengthAdjust="spacingAndGlyphs">Control shRNA</text>
<text x="323.60" y="453.30" font-size="12.3" font-weight="400" fill="#1a1a1a" textLength="92.68" lengthAdjust="spacingAndGlyphs">PRMT5 shRNA1</text>
<text x="426.60" y="453.30" font-size="12.3" font-weight="400" fill="#1a1a1a" textLength="92.43" lengthAdjust="spacingAndGlyphs">PRMT5 shRNA2</text>
<text x="266.14" y="504.50" font-size="9.0" font-weight="400" fill="#1a1a1a" textLength="17.64" lengthAdjust="spacingAndGlyphs">36.5</text>
<text x="369.34" y="504.80" font-size="9.0" font-weight="400" fill="#1a1a1a" textLength="17.42" lengthAdjust="spacingAndGlyphs">30.2</text>
<text x="472.14" y="505.00" font-size="9.0" font-weight="400" fill="#1a1a1a" textLength="17.54" lengthAdjust="spacingAndGlyphs">33.4</text>
<text x="218.19" y="569.80" font-size="12.2" font-weight="400" fill="#1a1a1a" textLength="93.47" lengthAdjust="spacingAndGlyphs">488 fluorescence</text>
<text x="656.48" y="442.00" font-size="12.3" font-weight="400" fill="#1a1a1a" textLength="83.07" lengthAdjust="spacingAndGlyphs">Control shRNA</text>
<text x="656.10" y="462.10" font-size="12.3" font-weight="400" fill="#1a1a1a" textLength="92.27" lengthAdjust="spacingAndGlyphs">PRMT5 shRNA1</text>
<text x="656.10" y="479.50" font-size="12.3" font-weight="400" fill="#1a1a1a" textLength="92.54" lengthAdjust="spacingAndGlyphs">PRMT5 shRNA2</text>
</svg></body></html>
